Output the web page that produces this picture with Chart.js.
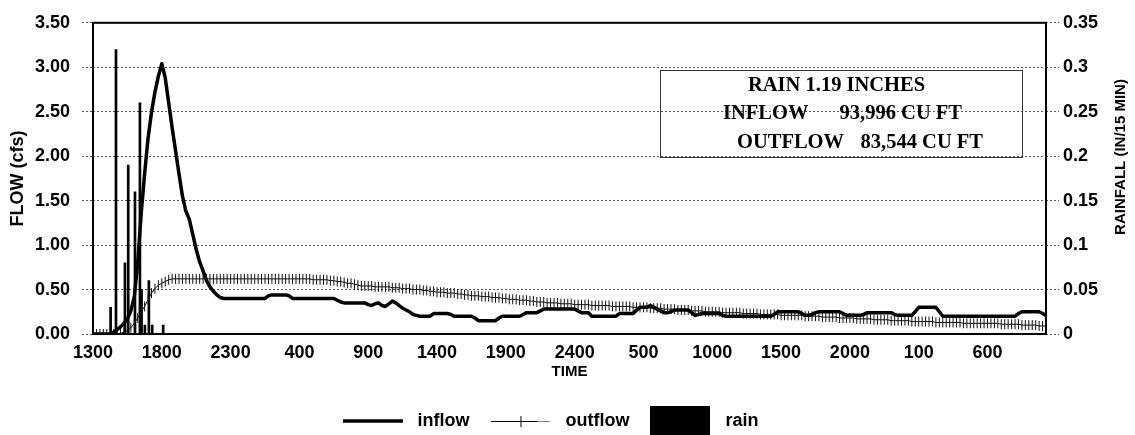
<!DOCTYPE html>
<html>
<head>
<meta charset="utf-8">
<script src="https://cdn.jsdelivr.net/npm/chart.js@4/dist/chart.umd.min.js"></script>
<style>
html,body{margin:0;padding:0;background:#fff;}
#c{display:block;}
</style>
</head>
<body>
<canvas id="c" width="1135" height="435"></canvas>
<script>
// ---- tick labels ----
const timeTickLabels = ["1300","1800","2300","400","900","1400","1900","2400","500","1000","1500","2000","100","600"];
const flowTickLabels = ["0.00","0.50","1.00","1.50","2.00","2.50","3.00","3.50"];
const rainTickLabels = ["0","0.05","0.1","0.15","0.2","0.25","0.3","0.35"];

// ---- series (15-minute readings starting at 1300) ----
const stepHours = 0.25;
const inflow = [
  0,0,0,0,0,0,0.02,0.05,0.08,0.12,
  0.17,0.26,0.42,0.80,1.35,1.80,2.20,2.49,2.72,2.90,
  3.04,2.88,2.60,2.32,2.06,1.80,1.55,1.38,1.29,1.12,
  0.95,0.81,0.71,0.60,0.53,0.48,0.44,0.41,0.40,0.40,
  0.40,0.40,0.40,0.40,0.40,0.40,0.40,0.40,0.40,0.40,
  0.40,0.43,0.44,0.44,0.44,0.44,0.44,0.43,0.40,0.40,
  0.40,0.40,0.40,0.40,0.40,0.40,0.40,0.40,0.40,0.40,
  0.40,0.38,0.36,0.35,0.35,0.35,0.35,0.35,0.35,0.35,
  0.33,0.32,0.34,0.35,0.32,0.31,0.34,0.37,0.35,0.32,
  0.29,0.27,0.25,0.22,0.21,0.20,0.20,0.20,0.20,0.23,
  0.23,0.23,0.23,0.23,0.22,0.20,0.20,0.20,0.20,0.20,
  0.20,0.18,0.15,0.15,0.15,0.15,0.15,0.15,0.18,0.20,
  0.20,0.20,0.20,0.20,0.20,0.22,0.24,0.24,0.24,0.24,
  0.26,0.28,0.28,0.28,0.28,0.28,0.28,0.28,0.28,0.28,
  0.28,0.26,0.24,0.24,0.24,0.20,0.20,0.20,0.20,0.20,
  0.20,0.20,0.20,0.23,0.23,0.23,0.23,0.23,0.27,0.30,
  0.30,0.30,0.32,0.30,0.28,0.26,0.24,0.24,0.25,0.27,
  0.27,0.27,0.27,0.27,0.24,0.21,0.22,0.23,0.23,0.23,
  0.23,0.23,0.23,0.21,0.20,0.20,0.20,0.20,0.20,0.20,
  0.20,0.20,0.20,0.20,0.20,0.20,0.20,0.20,0.22,0.25,
  0.25,0.25,0.25,0.25,0.25,0.25,0.23,0.21,0.21,0.22,
  0.24,0.25,0.25,0.25,0.25,0.25,0.25,0.25,0.23,0.21,
  0.21,0.21,0.21,0.21,0.22,0.24,0.24,0.24,0.24,0.24,
  0.24,0.24,0.24,0.22,0.21,0.21,0.21,0.21,0.21,0.25,
  0.30,0.30,0.30,0.30,0.30,0.30,0.25,0.20,0.20,0.20,
  0.20,0.20,0.20,0.20,0.20,0.20,0.20,0.20,0.20,0.20,
  0.20,0.20,0.20,0.20,0.20,0.20,0.20,0.20,0.20,0.23,
  0.25,0.25,0.25,0.25,0.25,0.25,0.23,0.21
];
const outflow = [
  0,0,0,0,0,0,0,0,0.01,0.02,
  0.04,0.07,0.12,0.18,0.25,0.31,0.39,0.46,0.51,0.55,
  0.57,0.59,0.61,0.62,0.62,0.62,0.62,0.62,0.62,0.62,
  0.62,0.62,0.62,0.62,0.62,0.62,0.62,0.62,0.62,0.62,
  0.62,0.62,0.62,0.62,0.62,0.62,0.62,0.62,0.62,0.62,
  0.62,0.62,0.62,0.62,0.62,0.62,0.62,0.62,0.62,0.62,
  0.62,0.62,0.62,0.62,0.61,0.61,0.61,0.61,0.61,0.60,
  0.60,0.59,0.59,0.58,0.57,0.57,0.56,0.55,0.54,0.54,
  0.54,0.54,0.53,0.53,0.53,0.53,0.53,0.52,0.52,0.52,
  0.51,0.51,0.51,0.50,0.50,0.50,0.49,0.49,0.48,0.48,
  0.47,0.47,0.47,0.46,0.46,0.46,0.45,0.45,0.44,0.44,
  0.43,0.43,0.43,0.42,0.42,0.42,0.41,0.41,0.41,0.40,
  0.40,0.39,0.39,0.39,0.38,0.38,0.38,0.37,0.37,0.36,
  0.36,0.36,0.35,0.35,0.35,0.35,0.34,0.34,0.34,0.34,
  0.33,0.33,0.33,0.33,0.33,0.32,0.32,0.32,0.32,0.32,
  0.32,0.31,0.31,0.31,0.31,0.31,0.31,0.30,0.30,0.30,
  0.30,0.30,0.29,0.29,0.29,0.29,0.28,0.28,0.28,0.28,
  0.27,0.27,0.27,0.27,0.26,0.26,0.26,0.26,0.25,0.25,
  0.25,0.25,0.25,0.24,0.24,0.24,0.24,0.24,0.24,0.23,
  0.23,0.23,0.23,0.23,0.22,0.22,0.22,0.22,0.22,0.22,
  0.21,0.21,0.21,0.21,0.21,0.21,0.21,0.20,0.20,0.20,
  0.20,0.20,0.19,0.19,0.19,0.19,0.19,0.18,0.18,0.18,
  0.18,0.18,0.17,0.17,0.17,0.17,0.17,0.16,0.16,0.16,
  0.16,0.16,0.15,0.15,0.15,0.15,0.15,0.15,0.14,0.14,
  0.14,0.14,0.14,0.14,0.14,0.13,0.13,0.13,0.13,0.13,
  0.13,0.13,0.13,0.12,0.12,0.12,0.12,0.12,0.12,0.12,
  0.12,0.12,0.12,0.12,0.11,0.11,0.11,0.11,0.11,0.11,
  0.10,0.10,0.10,0.10,0.10,0.09,0.09,0.09
];
// rain bars: hours after 1300, inches per 15 min
const rainTimes  = [1.28, 1.67, 2.32, 2.56, 3.05, 3.41, 3.53, 3.77, 4.06, 4.30, 5.10];
const rainValues = [0.030, 0.320, 0.080, 0.190, 0.160, 0.260, 0.050, 0.010, 0.060, 0.010, 0.010];

// ---- text ----
const noteTitle = "RAIN 1.19 INCHES";
const noteInflow = ["INFLOW", "93,996 CU FT"];
const noteOutflow = ["OUTFLOW", "83,544 CU FT"];
const legendNames = ["inflow", "outflow", "rain"];

const SANS = "'Liberation Sans', Arial, sans-serif";
const SERIF = "'Liberation Serif', 'Times New Roman', serif";
Chart.defaults.font.family = SANS;
Chart.defaults.color = '#000';

function makeSwatch(kind) {
  const c = document.createElement('canvas');
  c.width = 60; c.height = 30;
  const g = c.getContext('2d');
  g.strokeStyle = '#000'; g.fillStyle = '#000';
  if (kind === 'inflow') {
    g.lineWidth = 3.5; g.beginPath(); g.moveTo(0, 15); g.lineTo(60, 15); g.stroke();
  } else if (kind === 'outflow') {
    g.lineWidth = 1; g.beginPath(); g.moveTo(0, 15.5); g.lineTo(46, 15.5); g.stroke();
    g.setLineDash([1, 1]); g.beginPath(); g.moveTo(46, 15.5); g.lineTo(60, 15.5); g.stroke();
    g.setLineDash([]); g.beginPath(); g.moveTo(30.5, 10); g.lineTo(30.5, 21); g.stroke();
  } else {
    g.fillRect(0, 0, 60, 30);
  }
  return c;
}
const swatches = legendNames.map(makeSwatch);

const toXY = arr => arr.map((v, i) => ({x: i * stepHours, y: v}));

const legendShiftPlugin = {
  id: 'legendShift',
  afterLayout(chart) {
    const lg = chart.legend;
    if (!lg) return;
    lg.left -= 20; lg.right -= 20;
    lg.top += 5; lg.bottom += 5;
  }
};
const framePlugin = {
  id: 'frame',
  afterDatasetsDraw(chart) {
    const {ctx, chartArea: a} = chart;
    ctx.save();
    ctx.strokeStyle = '#000'; ctx.lineWidth = 2;
    ctx.strokeRect(a.left, a.top, a.right - a.left, a.bottom - a.top);
    ctx.restore();
  }
};
const notePlugin = {
  id: 'note',
  afterDraw(chart) {
    const ctx = chart.ctx;
    ctx.save();
    ctx.strokeStyle = '#333'; ctx.lineWidth = 1;
    ctx.strokeRect(660.5, 70.5, 362, 87);
    ctx.fillStyle = '#000';
    ctx.font = "bold 20.5px " + SERIF;
    ctx.textBaseline = 'middle';
    ctx.textAlign = 'left';
    ctx.fillText(noteTitle, 748, 86);
    ctx.fillText(noteInflow[0], 723, 114);
    ctx.fillText(noteOutflow[0], 737, 143);
    ctx.textAlign = 'right';
    ctx.fillText(noteInflow[1], 962, 114);
    ctx.fillText(noteOutflow[1], 983, 143);
    ctx.restore();
  }
};
const rightTitlePlugin = {
  id: 'rightTitle',
  afterDraw(chart) {
    const ctx = chart.ctx;
    ctx.save();
    ctx.translate(1121, 157);
    ctx.rotate(-Math.PI / 2);
    ctx.font = "bold 15px " + SANS;
    ctx.fillStyle = '#000';
    ctx.textAlign = 'center'; ctx.textBaseline = 'middle';
    ctx.fillText('RAINFALL (IN/15 MIN)', 0, 0);
    ctx.restore();
  }
};

new Chart(document.getElementById('c'), {
  type: 'line',
  data: {
    datasets: [
      {
        label: legendNames[0], data: toXY(inflow), yAxisID: 'y', order: 0,
        borderColor: '#000', borderWidth: 3.5, pointRadius: 0, tension: 0,
        borderJoinStyle: 'round', borderCapStyle: 'round', fill: false
      },
      {
        label: legendNames[1], data: toXY(outflow), yAxisID: 'y', order: 1,
        borderColor: '#111', borderWidth: 1, tension: 0, fill: false,
        pointStyle: 'line', rotation: 90, pointRadius: 5, pointHoverRadius: 5,
        pointBorderColor: '#111', pointBorderWidth: 1, pointBackgroundColor: '#111'
      },
      {
        type: 'bar', label: legendNames[2],
        data: rainTimes.map((t, i) => ({x: t, y: rainValues[i]})),
        yAxisID: 'y2', order: 2, backgroundColor: '#000', borderWidth: 0,
        barThickness: 2, grouped: false
      }
    ]
  },
  options: {
    responsive: false, animation: false, devicePixelRatio: 1,
    layout: {padding: {left: 0, right: 0, top: 14, bottom: 0}},
    plugins: {
      tooltip: {enabled: false},
      title: {display: false},
      legend: {
        position: 'bottom', align: 'center',
        labels: {
          usePointStyle: true, pointStyleWidth: 72, padding: 15,
          color: '#000', font: {size: 18, weight: 'bold', family: SANS},
          generateLabels: () => legendNames.map((n, i) => ({
            text: n, pointStyle: swatches[i], fillStyle: '#000', strokeStyle: '#000',
            lineWidth: 0, hidden: false, datasetIndex: i, fontColor: '#000'
          }))
        }
      }
    },
    scales: {
      x: {
        type: 'linear', min: 0, max: 69.25, offset: false,
        grid: {display: false, drawTicks: false},
        border: {display: false},
        ticks: {
          stepSize: 5, autoSkip: false, maxRotation: 0, minRotation: 0, includeBounds: false,
          padding: 8, color: '#000', font: {size: 18, weight: 'bold'},
          callback: v => { const k = Math.round(v / 5); return Math.abs(v - k * 5) < 1e-6 ? (timeTickLabels[k] || '') : ''; }
        },
        title: {display: true, text: 'TIME', color: '#000', font: {size: 15, weight: 'bold'}, padding: {top: 0, bottom: 11}},
        afterFit: s => { s.height = 58; }
      },
      y: {
        position: 'left', min: 0, max: 3.5,
        grid: {color: '#555', lineWidth: 1, tickLength: 11, tickColor: '#555', tickBorderDash: [2, 2]},
        border: {display: false, dash: [2, 2]},
        ticks: {
          stepSize: 0.5, padding: 12, color: '#000', font: {size: 18, weight: 'bold'},
          callback: v => flowTickLabels[Math.round(v / 0.5)]
        },
        title: {display: true, text: 'FLOW (cfs)', color: '#000', font: {size: 18, weight: 'bold'}, padding: {top: 7, bottom: 0}},
        afterFit: s => { s.width = 93; }
      },
      y2: {
        position: 'right', min: 0, max: 0.35,
        grid: {drawOnChartArea: false, color: '#555', tickLength: 13, tickColor: '#555', tickBorderDash: [2, 2]},
        border: {display: false},
        ticks: {
          stepSize: 0.05, padding: 4, color: '#000', font: {size: 18, weight: 'bold'},
          callback: v => rainTickLabels[Math.round(v / 0.05)]
        },
        afterFit: s => { s.width = 89; }
      }
    }
  },
  plugins: [legendShiftPlugin, framePlugin, notePlugin, rightTitlePlugin]
});
</script>
</body>
</html>
